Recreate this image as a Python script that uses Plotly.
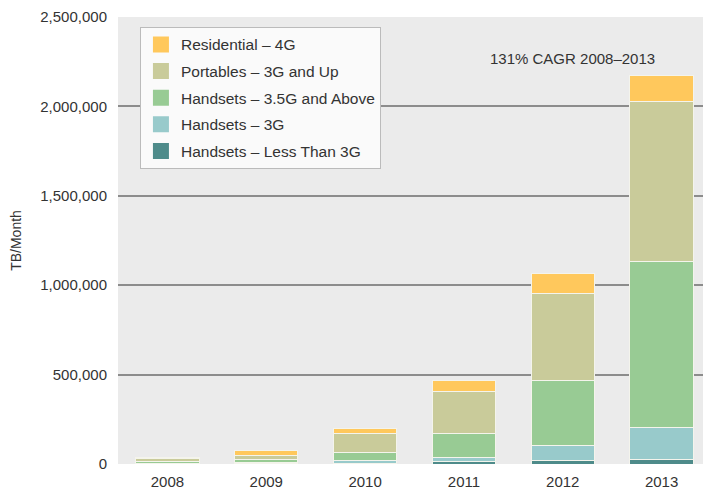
import plotly.graph_objects as go

years = ["2008", "2009", "2010", "2011", "2012", "2013"]

# TB/Month by segment (bottom to top)
handsets_lt3g = [2000, 2000, 5000, 12000, 17000, 25000]
handsets_3g = [3000, 5000, 17000, 25000, 85000, 180000]
handsets_35g = [10000, 19000, 41000, 134000, 367000, 925000]
portables = [15000, 24000, 106000, 237000, 485000, 898000]
residential = [8000, 23000, 30000, 57000, 111000, 145000]

series = [
    ("Handsets – Less Than 3G", handsets_lt3g, "#4E8B8A"),
    ("Handsets – 3G", handsets_3g, "#98CACB"),
    ("Handsets – 3.5G and Above", handsets_35g, "#98CB94"),
    ("Portables – 3G and Up", portables, "#C9CB9A"),
    ("Residential – 4G", residential, "#FFC85C"),
]

y_ticks = [0, 500000, 1000000, 1500000, 2000000, 2500000]
y_tick_labels = ["0", "500,000", "1,000,000", "1,500,000", "2,000,000", "2,500,000"]

annotation_text = "131% CAGR 2008–2013"

FONT = "Liberation Sans, Arial, Helvetica, sans-serif"

fig = go.Figure()

# legend entries (top-down order) as square markers
for name, vals, color in reversed(series):
    fig.add_trace(go.Scatter(
        x=[None], y=[None], mode="markers", name=name, legendgroup=name,
        marker=dict(symbol="square", size=16, color=color),
        showlegend=True, hoverinfo="skip",
    ))

for name, vals, color in series:
    fig.add_trace(go.Bar(
        x=years, y=vals, name=name, legendgroup=name, showlegend=False,
        marker=dict(color=color, line=dict(color="#F4F4EC", width=1)),
    ))

fig.add_annotation(
    x=4.1, y=2270000, xref="x", yref="y", text=annotation_text,
    showarrow=False, font=dict(family=FONT, size=15, color="#333333"),
)

# page body has an 8px default margin, so the figure is sized/offset to fit
fig.update_layout(
    width=703, height=483,
    barmode="stack", bargap=0.36,
    margin=dict(l=110, r=0, t=9, b=27),
    paper_bgcolor="white", plot_bgcolor="#EBEBEB",
    font=dict(family=FONT, size=15, color="#333333"),
    showlegend=True,
    legend=dict(
        x=0.037, y=0.978, xanchor="left", yanchor="top",
        bgcolor="#FAFAFA", bordercolor="#BBBBBB", borderwidth=1,
        font=dict(family=FONT, size=15.5, color="#333333"),
        traceorder="grouped", tracegroupgap=3.5,
        itemclick=False, itemdoubleclick=False,
    ),
    xaxis=dict(
        type="category", range=[-0.5, 5.5], showgrid=False, ticks="",
        showline=False, tickfont=dict(size=15, color="#333333"),
        ticklabelstandoff=7, fixedrange=True,
    ),
    yaxis=dict(
        range=[0, 2500000], tickvals=y_ticks, ticktext=y_tick_labels,
        showgrid=True, gridcolor="#8C8C8C", gridwidth=1.5, zeroline=False,
        ticks="", ticklabelstandoff=10, showline=False,
        tickfont=dict(size=15, color="#333333"),
        title=dict(text="TB/Month", font=dict(size=14, color="#333333"), standoff=15),
        automargin=False, fixedrange=True,
    ),
)

fig.write_html("out.html")
